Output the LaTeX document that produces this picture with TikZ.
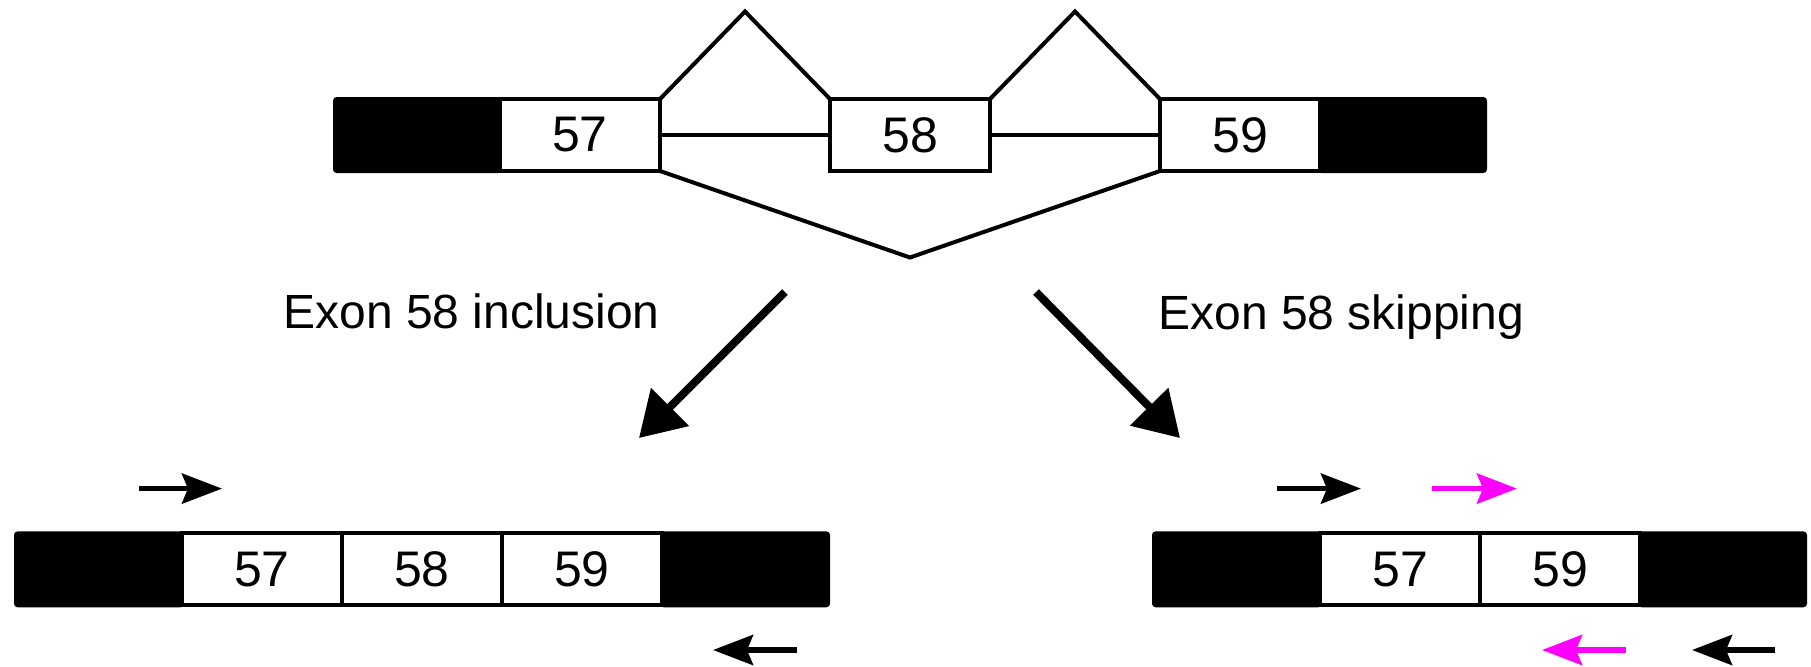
\documentclass[tikz,border=0pt]{standalone}
\usepackage{fontspec}
\setmainfont{Liberation Sans}
\usetikzlibrary{arrows.meta}
\definecolor{primermag}{RGB}{255,0,255}
\begin{document}
\begin{tikzpicture}[x=0.5pt,y=-0.5pt,
  utr/.style={draw=black, fill=black, line width=2pt, minimum height=36pt, inner sep=0pt, outer sep=0pt, rounded corners=1pt},
  exon/.style={draw=black, fill=white, line width=2pt, minimum width=80pt, minimum height=36pt, inner sep=0pt, outer sep=0pt, font=\fontsize{25}{29}\selectfont},
  conn/.style={line width=2pt, line join=miter},
  bigarrow/.style={line width=4pt, -{Triangle[length=22pt,width=26pt]}},
  primer/.style={line width=2.8pt, -{Stealth[length=20pt,width=15pt,inset=3pt]}},
  splicetext/.style={font=\fontsize{24}{28}\selectfont, anchor=base west, inner sep=0pt}
]
\useasboundingbox (0,0) rectangle (1811,666);
% top pre-mRNA
\node[utr, minimum width=82.5pt] (tu1) at (417.5,135) {};
\node[utr, minimum width=82.5pt] (tu2) at (1402.5,135) {};
\node[exon] (t57) at (580,135) {57};
\node[exon] (t58) at (910,135) {58};
\node[exon] (t59) at (1240,135) {59};
\coordinate (apexA) at (745,11.5);
\coordinate (apexB) at (1075,11.5);
\coordinate (vtip) at (910,257.5);
\draw[conn] (t57.north east) -- (apexA) -- (t58.north west);
\draw[conn] (t58.north east) -- (apexB) -- (t59.north west);
\draw[conn] (t57.east) -- (t58.west);
\draw[conn] (t58.east) -- (t59.west);
\draw[conn] (t57.south east) -- (vtip) -- (t59.south west);
% labels
\node[splicetext] (incl) at (283,328) {Exon 58 inclusion};
\node[splicetext] (skip) at (1158,329) {Exon 58 skipping};
% big arrows
\coordinate (ls) at (785,292);
\coordinate (le) at (639,438);
\coordinate (rs) at (1036,292);
\coordinate (re) at (1180,438);
\draw[bigarrow] (ls) -- (le);
\draw[bigarrow] (rs) -- (re);
% bottom left mRNA
\node[utr, minimum width=83pt] (lu1) at (99,569.3) {};
\node[utr, minimum width=83pt] (lu2) at (745,569.3) {};
\node[exon] (l57) at (262,569.3) {57};
\node[exon] (l58) at (422,569.3) {58};
\node[exon] (l59) at (582,569.3) {59};
% bottom right mRNA
\node[utr, minimum width=83pt] (ru1) at (1237,569.3) {};
\node[utr, minimum width=82.5pt] (ru2) at (1722.5,569.3) {};
\node[exon] (r57) at (1400,569.3) {57};
\node[exon] (r59) at (1560,569.3) {59};
% primers
\coordinate (lf1) at (139,488.6); \coordinate (lf2) at (222,488.6);
\coordinate (lr1) at (797,650); \coordinate (lr2) at (713,650);
\draw[primer] (lf1) -- (lf2);
\draw[primer] (lr1) -- (lr2);
\coordinate (rf1) at (1277,488.6); \coordinate (rf2) at (1361,488.6);
\coordinate (mf1) at (1432,488.6); \coordinate (mf2) at (1517,488.6);
\coordinate (mr1) at (1626,650); \coordinate (mr2) at (1542,650);
\coordinate (rr1) at (1775,650); \coordinate (rr2) at (1692,650);
\draw[primer] (rf1) -- (rf2);
\draw[primer, primermag] (mf1) -- (mf2);
\draw[primer, primermag] (mr1) -- (mr2);
\draw[primer] (rr1) -- (rr2);
\end{tikzpicture}
\end{document}
